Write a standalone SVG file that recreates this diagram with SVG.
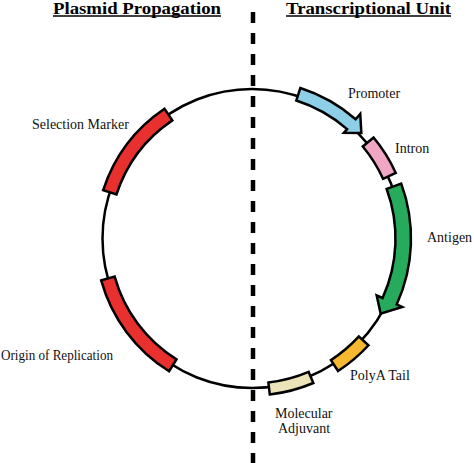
<svg xmlns="http://www.w3.org/2000/svg" width="474" height="463" viewBox="0 0 474 463">
<style>
.t{font-family:"Liberation Serif","Times New Roman",serif;font-size:14px;fill:#111}
.h{font-family:"Liberation Serif","Times New Roman",serif;font-size:17px;font-weight:bold;fill:#000}
.seg{stroke:#000;stroke-width:2.5;stroke-linejoin:miter}
.ul{stroke:#000;stroke-width:1.5}
</style>
<rect width="474" height="463" fill="#fff"/>
<g id="titles">
<text class="h" x="53" y="14" textLength="168" lengthAdjust="spacingAndGlyphs">Plasmid Propagation</text>
<line class="ul" x1="53" y1="16" x2="221" y2="16"/>
<text class="h" x="286" y="14" textLength="165" lengthAdjust="spacingAndGlyphs">Transcriptional Unit</text>
<line class="ul" x1="286" y1="16" x2="451" y2="16"/>
</g>
<g id="connectors">
<circle id="backbone" cx="252" cy="238.5" r="149.5" fill="none" stroke="#000" stroke-width="2.5"/>
</g>
<g id="selection-marker">
<path class="seg" fill="#E8302F" d="M103.16,190.14 A156.5,156.5 0 0 1 164.49,108.76 L172.31,120.36 A142.5,142.5 0 0 0 116.47,194.46 Z"/>
<text class="t" x="32" y="129">Selection Marker</text>
</g>
<g id="origin-of-replication">
<path class="seg" fill="#E8302F" d="M169.07,371.22 A156.5,156.5 0 0 1 101.19,280.32 L114.68,276.58 A142.5,142.5 0 0 0 176.49,359.35 Z"/>
<text class="t" x="1" y="360" textLength="112" lengthAdjust="spacingAndGlyphs">Origin of Replication</text>
</g>
<g id="promoter">
<path class="seg" fill="#8ECFE8" d="M300.30,88.06 A158,158 0 0 1 355.66,119.26 L360.25,113.97 L361.34,132.91 L343.85,132.84 L347.13,129.07 A145,145 0 0 0 296.33,100.44 Z"/>
<text class="t" x="348" y="98">Promoter</text>
</g>
<g id="intron">
<path class="seg" fill="#F2A6C6" d="M373.57,137.57 A158,158 0 0 1 395.77,172.98 L383.03,178.78 A144,144 0 0 0 362.79,146.52 Z"/>
<text class="t" x="395" y="153">Intron</text>
</g>
<g id="antigen">
<path class="seg" fill="#25AB5B" d="M401.22,183.60 A159,159 0 0 1 396.68,304.44 L402.14,306.92 L380.65,313.67 L376.66,295.31 L382.58,298.01 A143.5,143.5 0 0 0 386.67,188.95 Z"/>
<text class="t" x="427" y="242">Antigen</text>
</g>
<g id="polya-tail">
<path class="seg" fill="#F6B830" d="M368.49,345.24 A158,158 0 0 1 338.05,371.01 L330.97,360.11 A145,145 0 0 0 358.91,336.46 Z"/>
<text class="t" x="350" y="380">PolyA Tail</text>
</g>
<g id="molecular-adjuvant">
<path class="seg" fill="#ECE3B8" d="M313.34,383.02 A157,157 0 0 1 269.77,394.49 L268.41,382.57 A145,145 0 0 0 308.66,371.97 Z"/>
<text class="t" x="275" y="418">Molecular</text>
<text class="t" x="278" y="433">Adjuvant</text>
</g>
<g id="divider">
<line x1="253" y1="12" x2="253" y2="463" stroke="#000" stroke-width="4.5" stroke-dasharray="11 10"/>
</g>
</svg>
